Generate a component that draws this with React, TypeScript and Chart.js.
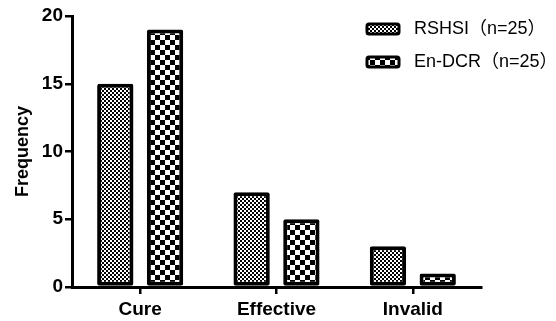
import React, { useEffect, useRef } from "react";
import { Chart, registerables } from "chart.js";

Chart.register(...registerables);

const categories = ["Cure", "Effective", "Invalid"];
const seriesNames = ["RSHSI（n=25）", "En-DCR（n=25）"];
const rshsiValues = [15, 7, 3];
const endcrValues = [19, 5, 1];
const yTicks = [0, 5, 10, 15, 20];

function makePattern(cell: number): CanvasPattern | string {
  const c = document.createElement("canvas");
  c.width = cell * 2;
  c.height = cell * 2;
  const ctx = c.getContext("2d");
  if (!ctx) return "#888";
  ctx.fillStyle = "#fff";
  ctx.fillRect(0, 0, cell * 2, cell * 2);
  ctx.fillStyle = "#000";
  ctx.fillRect(0, 0, cell, cell);
  ctx.fillRect(cell, cell, cell, cell);
  const p = ctx.createPattern(c, "repeat");
  return p || "#888";
}

export default function App() {
  const ref = useRef<HTMLCanvasElement>(null);
  useEffect(() => {
    document.body.style.margin = "0";
    const canvas = ref.current;
    if (!canvas) return;
    const p1 = makePattern(2);
    const p2 = makePattern(5);
    const patterns = [p1, p2];

    const legendPlugin = {
      id: "customLegend",
      afterDraw(chart: any) {
        const ctx = chart.ctx;
        ctx.save();
        const ys = [29, 62];
        seriesNames.forEach((name, i) => {
          const x = 367, y = ys[i] - 5, w = 32, h = 10;
          ctx.fillStyle = patterns[i];
          ctx.beginPath();
          ctx.roundRect(x, y, w, h, 2);
          ctx.fill();
          ctx.lineWidth = 3;
          ctx.strokeStyle = "#000";
          ctx.stroke();
          ctx.fillStyle = "#000";
          ctx.font = '18px "Liberation Sans", "Noto Sans CJK SC", sans-serif';
          ctx.textBaseline = "middle";
          ctx.textAlign = "left";
          ctx.fillText(name, 414, ys[i]);
        });
        ctx.restore();
      },
    };

    const tickFont = { family: '"Liberation Sans", Arial, sans-serif', size: 19, weight: "bold" as const };

    const chart = new Chart(canvas, {
      type: "bar",
      data: {
        labels: categories,
        datasets: [
          {
            label: seriesNames[0],
            data: rshsiValues,
            backgroundColor: p1 as any,
            borderColor: "#000",
            borderWidth: 4,
            borderSkipped: false,
            borderRadius: 2,
          },
          {
            label: seriesNames[1],
            data: endcrValues,
            backgroundColor: p2 as any,
            borderColor: "#000",
            borderWidth: 4,
            borderSkipped: false,
            borderRadius: 2,
          },
        ],
      },
      options: {
        responsive: false,
        animation: false,
        events: [],
        datasets: { bar: { categoryPercentage: 0.73, barPercentage: 0.73 } },
        layout: { padding: { top: 16, right: 75, left: 0, bottom: 0 } },
        plugins: { legend: { display: false }, tooltip: { enabled: false } },
        scales: {
          x: {
            grid: { drawOnChartArea: false, offset: false, color: "#000", lineWidth: 2.5, tickLength: 7 },
            border: { color: "#000", width: 3 },
            ticks: { color: "#000", font: tickFont, padding: 4, maxRotation: 0 },
            afterFit: (s: any) => { s.height = 34; },
          },
          y: {
            min: 0,
            max: 20,
            afterBuildTicks: (s: any) => { s.ticks = yTicks.map((v) => ({ value: v })); },
            grid: { drawOnChartArea: false, color: "#000", lineWidth: 2.5, tickLength: 7 },
            border: { color: "#000", width: 3 },
            ticks: { color: "#000", font: tickFont, padding: 2 },
            title: {
              display: true,
              text: "Frequency",
              color: "#000",
              font: { family: '"Liberation Sans", Arial, sans-serif', size: 18, weight: "bold" },
              padding: { top: 12, bottom: 0 },
            },
            afterFit: (s: any) => { s.width = 72; },
          },
        },
      },
      plugins: [legendPlugin],
    });
    return () => chart.destroy();
  }, []);
  return (
    <div style={{ position: "relative", width: 556, height: 321, background: "#fff" }}>
      <canvas ref={ref} width={556} height={321} />
    </div>
  );
}
